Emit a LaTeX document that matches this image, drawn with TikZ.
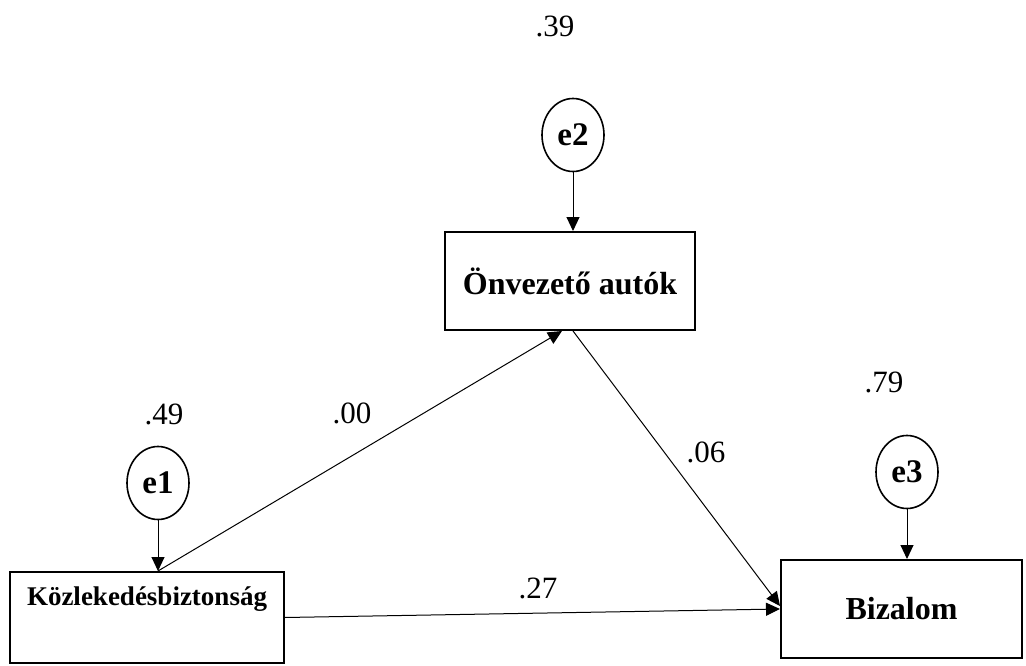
\documentclass[tikz,border=0pt]{standalone}
\usepackage{fontspec}
\setmainfont{Liberation Serif}
\usetikzlibrary{shapes.geometric,arrows.meta}

\begin{document}
\begin{tikzpicture}[
  x=1pt, y=-1pt,
  varbox/.style={draw, line width=2pt, inner sep=0pt, font=\bfseries\fontsize{32}{38}\selectfont, text centered},
  errorterm/.style={draw, ellipse, line width=1.6pt, inner sep=0pt, minimum width=62pt, minimum height=73pt, font=\bfseries\fontsize{33}{40}\selectfont},
  coef/.style={inner sep=0pt, font=\fontsize{31}{37}\selectfont},
  regline/.style={-{Triangle[length=14pt,width=13pt]}, line width=1pt}
  ]
  \useasboundingbox (0,0) rectangle (1026,666);

  % Nodes
  \node (onv) [varbox, minimum width=250pt, minimum height=98pt] at (570,281) {Önvezető autók};
  \node (koz) [varbox, minimum width=274pt, text height=33pt, text depth=58pt,
    font=\bfseries\fontsize{27}{32}\selectfont] at (147,617.5) {Közlekedésbiztonság};
  \node (biz) [varbox, minimum width=241pt, minimum height=98pt] at (901.5,609) {Bizalom};
  \node (e2) [errorterm] at (573,135) {e2};
  \node (e1) [errorterm] at (158,483) {e1};
  \node (e3) [errorterm] at (907,472) {e3};

  % Coefficients
  \node (r2onv) [coef] at (555,26) {.39};
  \node (r2koz) [coef] at (164,414) {.49};
  \node (r2biz) [coef] at (884,382) {.79};
  \node (kozonv) [coef] at (352,413) {.00};
  \node (onvbiz) [coef] at (706,452) {.06};
  \node (kozbiz) [coef] at (538,588) {.27};

  % Connections
  \draw[regline] (e2) -- (e2 |- onv.north);
  \draw[regline] (e1) -- (e1 |- koz.north);
  \draw[regline] (e3) -- (e3 |- biz.north);
  \draw[regline] (e1 |- koz.north) -- ([xshift=-8pt]onv.south);
  \draw[regline] ([xshift=3pt]onv.south) -- ([yshift=3pt]biz.west);
  \draw[regline] (koz.east) -- (biz.west);

\end{tikzpicture}
\end{document}
